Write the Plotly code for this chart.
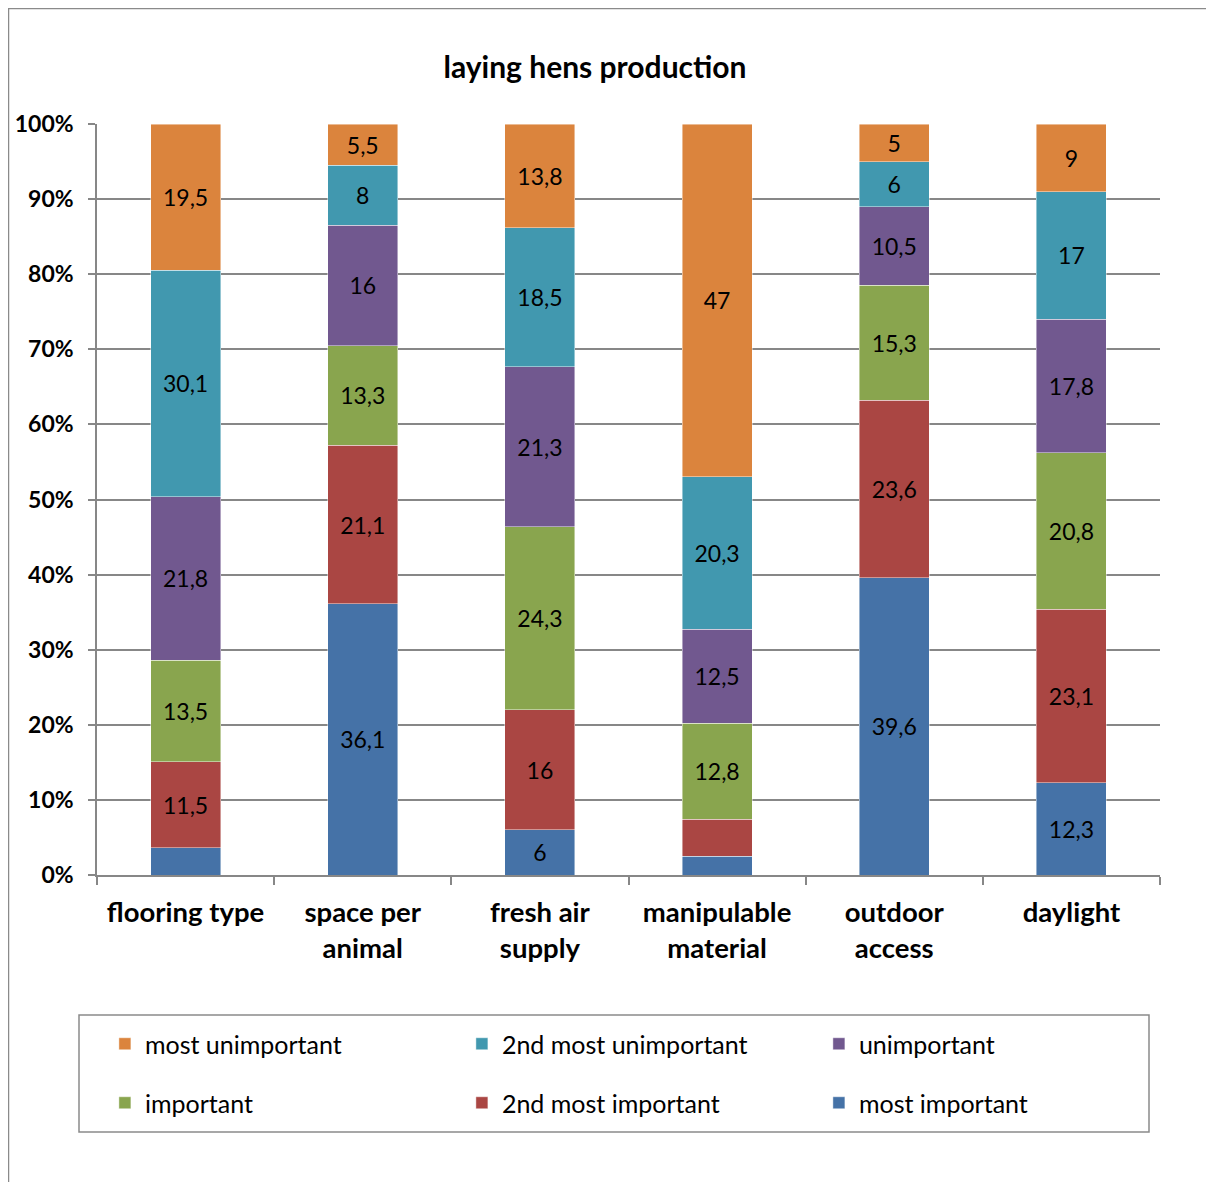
import plotly.graph_objects as go

categories = ["flooring type", "space per<br>animal", "fresh air<br>supply",
              "manipulable<br>material", "outdoor<br>access", "daylight"]

series_names = ["most important", "2nd most important", "important",
                "unimportant", "2nd most unimportant", "most unimportant"]

most_important = [3.6, 36.1, 6, 2.5, 39.6, 12.3]
second_most_important = [11.5, 21.1, 16, 4.9, 23.6, 23.1]
important = [13.5, 13.3, 24.3, 12.8, 15.3, 20.8]
unimportant = [21.8, 16, 21.3, 12.5, 10.5, 17.8]
second_most_unimportant = [30.1, 8, 18.5, 20.3, 6, 17]
most_unimportant = [19.5, 5.5, 13.8, 47, 5, 9]

y_tick_values = list(range(0, 101, 10))
y_tick_labels = [f"{v}%" for v in y_tick_values]

series_values = [most_important, second_most_important, important,
                 unimportant, second_most_unimportant, most_unimportant]
colors = ["#4572A7", "#AA4643", "#89A54E", "#71588F", "#4198AF", "#DB843D"]
legend_ids = ["legend2", "legend2", "legend2", "legend", "legend", "legend"]

FONT = "Lato"
LABEL_MIN = 5

# figure size / plot area in figure pixels (page has an 8px body margin)
W, H = 1206, 1174
L, R, T, B = 89, 54, 116, 307
PW, PH = W - L - R, H - T - B


def px_x(p):
    return (p - L) / PW


def px_y(p):
    return (H - B - p) / PH


def fmt(v):
    return f"{v:g}".replace(".", ",") if v >= LABEL_MIN else ""


fig = go.Figure()
for name, vals, col, lg in zip(series_names, series_values, colors, legend_ids):
    fig.add_trace(go.Bar(
        x=categories, y=vals, name=name,
        marker=dict(color=col, line=dict(color="rgba(255,255,255,0.55)", width=0.8)),
        text=[fmt(v) for v in vals],
        textposition="inside", insidetextanchor="middle", textangle=0,
        constraintext="none",
        textfont=dict(family=FONT, size=23, color="black"),
        legend=lg,
    ))

grid_col = "#878787"
legend_common = dict(orientation="h", x=-0.0001, xanchor="left", yanchor="middle",
                     traceorder="reversed", entrywidth=312, bgcolor="rgba(0,0,0,0)",
                     borderwidth=8, bordercolor="rgba(0,0,0,0)",
                     font=dict(family=FONT, size=25, color="black"))
fig.update_layout(
    width=W, height=H,
    barmode="stack", barnorm="percent", bargap=0.605,
    plot_bgcolor="white", paper_bgcolor="white",
    margin=dict(l=L, r=R, t=T, b=B),
    font=dict(family=FONT, color="black"),
    title=dict(text="<b>laying hens production</b>", x=587 / W, xref="container",
               xanchor="center", y=1 - 59 / H, yref="container", yanchor="middle",
               font=dict(family=FONT, size=30, color="black")),
    xaxis=dict(tickson="boundaries", ticks="outside", ticklen=8, tickcolor=grid_col,
               tickwidth=1.5, showline=True, linecolor=grid_col, linewidth=1.5,
               showgrid=False, ticklabelstandoff=12, automargin=False,
               tickfont=dict(family=FONT, size=27.5, color="black", weight="bold")),
    yaxis=dict(range=[0, 100], tickmode="array", tickvals=y_tick_values,
               ticktext=y_tick_labels, automargin=False,
               ticks="outside", ticklen=7, tickcolor=grid_col, tickwidth=1.5,
               showline=True, linecolor=grid_col, linewidth=1.5, ticklabelstandoff=10,
               showgrid=True, gridcolor=grid_col, gridwidth=1.5, zeroline=False,
               tickfont=dict(family=FONT, size=23, color="black", weight="bold")),
    legend=dict(legend_common, y=px_y(1044 - 8)),
    legend2=dict(legend_common, y=px_y(1103 - 8)),
    shapes=[
        dict(type="rect", xref="paper", yref="paper",
             x0=px_x(79 - 8), x1=px_x(1149 - 8),
             y0=px_y(1132 - 8), y1=px_y(1015 - 8),
             line=dict(color="#8a8a8a", width=1.5), fillcolor="rgba(0,0,0,0)"),
        dict(type="rect", xref="paper", yref="paper",
             x0=px_x(0.5), x1=px_x(W + 20),
             y0=px_y(H + 20), y1=px_y(0.5),
             line=dict(color="#8a8a8a", width=1.5), fillcolor="rgba(0,0,0,0)"),
    ],
)

fig.write_html("out.html")
